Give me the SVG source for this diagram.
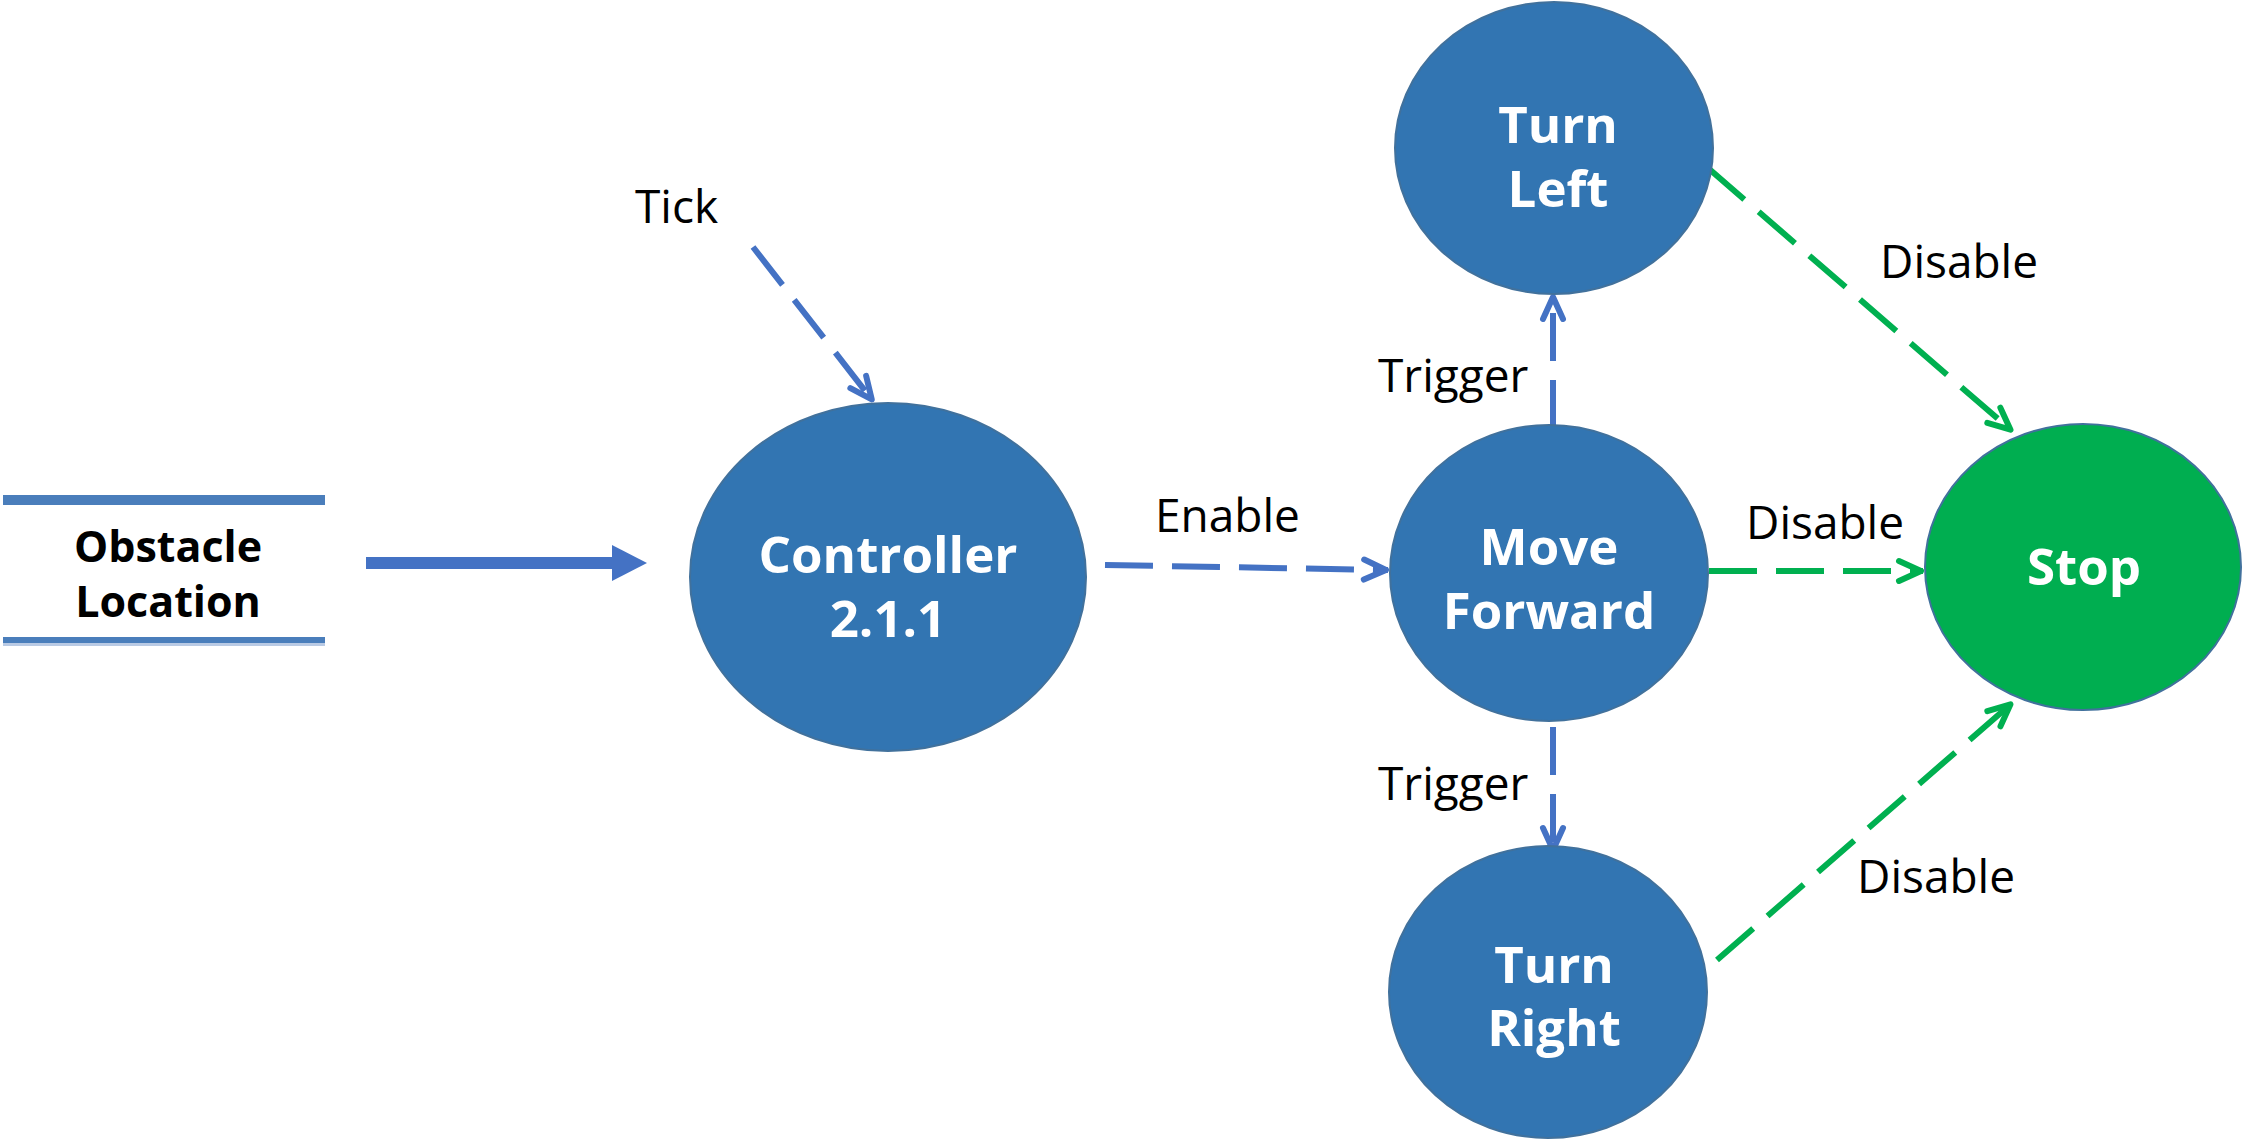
<svg xmlns="http://www.w3.org/2000/svg" width="2244" height="1139" viewBox="0 0 2244 1139">
<style>
.node{fill:#3275B2;stroke:#41719C;stroke-width:2}
.stop{fill:#00AE50;stroke:#41719C;stroke-width:2}
.nt{font-family:"Open Sans","Noto Sans","Liberation Sans",sans-serif;font-weight:bold;font-size:51px;fill:#FFFFFF;text-anchor:middle}
.lbl{font-family:"Open Sans","Noto Sans","Liberation Sans",sans-serif;font-size:46px;fill:#000000}
.ds{font-family:"Open Sans","Noto Sans","Liberation Sans",sans-serif;font-weight:bold;font-size:43px;fill:#000000;text-anchor:middle}
.db{fill:none;stroke:#4472C4;stroke-width:6;stroke-dasharray:48 19}
.dg{fill:none;stroke:#00B050;stroke-width:6;stroke-dasharray:48 19}
</style>
<defs>
<marker id="ahb" markerUnits="userSpaceOnUse" viewBox="-30 -16 34 32" refX="0" refY="0" markerWidth="34" markerHeight="32" orient="auto" overflow="visible">
<path d="M-24,-10 L-2,0 L-24,10" fill="none" stroke="#4472C4" stroke-width="6" stroke-linecap="round" stroke-linejoin="round" stroke-dasharray="none"/>
</marker>
<marker id="ahg" markerUnits="userSpaceOnUse" viewBox="-30 -16 34 32" refX="0" refY="0" markerWidth="34" markerHeight="32" orient="auto" overflow="visible">
<path d="M-24,-10 L-2,0 L-24,10" fill="none" stroke="#00B050" stroke-width="6" stroke-linecap="round" stroke-linejoin="round" stroke-dasharray="none"/>
</marker>
</defs>

<g id="obstacle-location">
<rect x="3" y="495" width="322" height="10" fill="#4A7EBB"/>
<rect x="3" y="637" width="322" height="6" fill="#4A7EBB"/>
<rect x="3" y="643" width="322" height="3" fill="#B9CAE4"/>
<text class="ds" x="168" y="562">Obstacle</text>
<text class="ds" x="168" y="617">Location</text>
</g>

<g id="connectors">
<path d="M366,563 H614" stroke="#4472C4" stroke-width="12" fill="none"/>
<polygon points="612,545 647,563 612,581" fill="#4472C4"/>
<line class="db" x1="753" y1="247" x2="873" y2="401" marker-end="url(#ahb)"/>
<line class="db" x1="1105" y1="565" x2="1388" y2="570" marker-end="url(#ahb)"/>
<line class="db" x1="1553" y1="428" x2="1553" y2="295" marker-end="url(#ahb)"/>
<line class="db" x1="1553" y1="727" x2="1553" y2="852" marker-end="url(#ahb)"/>
<line class="dg" x1="1709" y1="571" x2="1923" y2="571" marker-end="url(#ahg)"/>
<line class="dg" x1="1708" y1="168" x2="2012" y2="431" marker-end="url(#ahg)"/>
<line class="dg" x1="1717" y1="960" x2="2012" y2="703" marker-end="url(#ahg)"/>
<text class="lbl" x="635" y="223">Tick</text>
<text class="lbl" x="1155" y="532">Enable</text>
<text class="lbl" x="1378" y="392">Trigger</text>
<text class="lbl" x="1378" y="800">Trigger</text>
<text class="lbl" x="1746" y="539">Disable</text>
<text class="lbl" x="1880" y="278">Disable</text>
<text class="lbl" x="1857" y="893">Disable</text>
</g>

<g id="controller">
<ellipse class="node" cx="888" cy="577" rx="198" ry="174"/>
<text class="nt" x="888" y="573">Controller</text>
<text class="nt" x="888" y="637">2.1.1</text>
</g>

<g id="move-forward">
<ellipse class="node" cx="1549" cy="573" rx="159" ry="148"/>
<text class="nt" x="1549" y="565">Move</text>
<text class="nt" x="1549" y="629">Forward</text>
</g>

<g id="turn-left">
<ellipse class="node" cx="1554" cy="148" rx="159" ry="146"/>
<text class="nt" x="1558" y="143">Turn</text>
<text class="nt" x="1558" y="207">Left</text>
</g>

<g id="turn-right">
<ellipse class="node" cx="1548" cy="992" rx="159" ry="146"/>
<text class="nt" x="1554" y="983">Turn</text>
<text class="nt" x="1554" y="1046">Right</text>
</g>

<g id="stop">
<ellipse class="stop" cx="2083" cy="567" rx="158" ry="143"/>
<text class="nt" x="2084" y="585">Stop</text>
</g>
</svg>
